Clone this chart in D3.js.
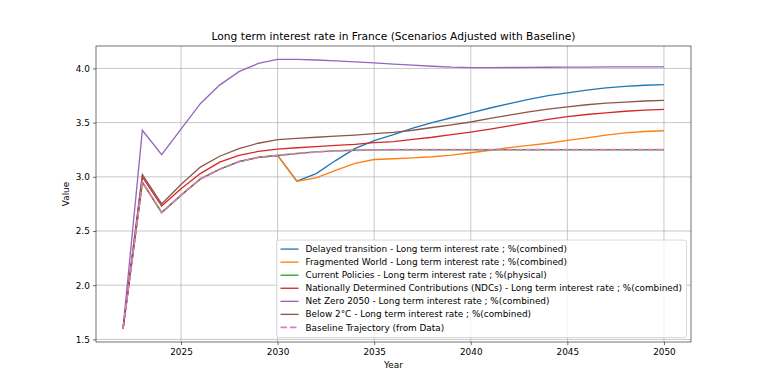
<!DOCTYPE html>
<html>
<head>
<meta charset="utf-8">
<script src="https://cdn.jsdelivr.net/npm/d3@7"></script>
<style>
  body { margin: 0; background: #fff; }
  svg { font-family: "DejaVu Sans", sans-serif; }
</style>
</head>
<body>
<script>
const years = d3.range(2022, 2051);

const baseline   = [1.6, 2.95, 2.67, 2.83, 2.98, 3.07, 3.14, 3.18, 3.197, 3.215, 3.23, 3.24, 3.245, 3.248,
                    3.25, 3.25, 3.25, 3.25, 3.25, 3.25, 3.25, 3.25, 3.25, 3.25, 3.25, 3.25, 3.25, 3.25, 3.25];
const delayed    = [1.6, 2.95, 2.67, 2.83, 2.98, 3.07, 3.14, 3.18, 3.197, 2.96, 3.03, 3.15, 3.26, 3.335,
                    3.39, 3.45, 3.5, 3.545, 3.59, 3.635, 3.675, 3.715, 3.75, 3.775, 3.8, 3.82, 3.835, 3.845, 3.85];
const fragmented = [1.6, 2.95, 2.67, 2.83, 2.98, 3.07, 3.14, 3.18, 3.197, 2.96, 2.99, 3.06, 3.125, 3.16,
                    3.167, 3.175, 3.185, 3.2, 3.222, 3.245, 3.27, 3.29, 3.31, 3.336, 3.36, 3.385, 3.405, 3.418, 3.425];
const currentPol = baseline.slice();
const ndcs       = [1.6, 3.0, 2.73, 2.89, 3.03, 3.135, 3.197, 3.234, 3.256, 3.268, 3.278, 3.29, 3.3, 3.315,
                    3.325, 3.345, 3.365, 3.39, 3.413, 3.44, 3.47, 3.5, 3.53, 3.555, 3.575, 3.59, 3.605, 3.615, 3.623];
const netZero    = [1.6, 3.43, 3.205, 3.44, 3.675, 3.846, 3.97, 4.046, 4.083, 4.083, 4.078, 4.07, 4.06, 4.052,
                    4.04, 4.03, 4.02, 4.012, 4.008, 4.008, 4.009, 4.01, 4.011, 4.012, 4.013, 4.014, 4.015, 4.015, 4.015];
const below2     = [1.6, 3.02, 2.75, 2.93, 3.09, 3.19, 3.26, 3.31, 3.343, 3.355, 3.365, 3.375, 3.385, 3.398,
                    3.41, 3.43, 3.455, 3.48, 3.506, 3.54, 3.57, 3.6, 3.625, 3.645, 3.665, 3.68, 3.69, 3.7, 3.706];

const labels = [
  "Delayed transition - Long term interest rate ; %(combined)",
  "Fragmented World - Long term interest rate ; %(combined)",
  "Current Policies - Long term interest rate ; %(physical)",
  "Nationally Determined Contributions (NDCs) - Long term interest rate ; %(combined)",
  "Net Zero 2050 - Long term interest rate ; %(combined)",
  "Below 2°C - Long term interest rate ; %(combined)",
  "Baseline Trajectory (from Data)"
];
const colors = ["#1f77b4", "#ff7f0e", "#2ca02c", "#d62728", "#9467bd", "#8c564b", "#e377c2"];
const seriesData = [delayed, fragmented, currentPol, ndcs, netZero, below2, baseline];

const xTicks = [2025, 2030, 2035, 2040, 2045, 2050];
const yTicks = [1.5, 2.0, 2.5, 3.0, 3.5, 4.0];

const W = 768, H = 384;
const m = {left: 96, right: 77, top: 46, bottom: 42};
const fs = 8.9;

const svg = d3.select("body").append("svg")
    .attr("width", W)
    .attr("height", H);

const allVals = seriesData.flat();
const yMin = d3.min(allVals), yMax = d3.max(allVals);
const yPad = (yMax - yMin) * 0.05;
const xPad = (2050 - 2022) * 0.05;

const x = d3.scaleLinear()
    .domain([2022 - xPad, 2050 + xPad])
    .range([m.left, W - m.right]);

const y = d3.scaleLinear()
    .domain([yMin - yPad, yMax + yPad])
    .range([H - m.bottom, m.top]);

// grid
svg.append("g").selectAll("line").data(xTicks).join("line")
    .attr("x1", d => x(d)).attr("x2", d => x(d))
    .attr("y1", m.top).attr("y2", H - m.bottom)
    .attr("stroke", "#b0b0b0").attr("stroke-width", 0.7);
svg.append("g").selectAll("line").data(yTicks).join("line")
    .attr("x1", m.left).attr("x2", W - m.right)
    .attr("y1", d => y(d)).attr("y2", d => y(d))
    .attr("stroke", "#b0b0b0").attr("stroke-width", 0.7);

// axes
const xAxis = svg.append("g")
    .attr("transform", `translate(0,${H - m.bottom})`)
    .call(d3.axisBottom(x).tickValues(xTicks).tickFormat(d3.format("d")).tickSizeOuter(0).tickSize(3.1).tickPadding(3.1));
const yAxis = svg.append("g")
    .attr("transform", `translate(${m.left},0)`)
    .call(d3.axisLeft(y).tickValues(yTicks).tickFormat(d3.format(".1f")).tickSizeOuter(0).tickSize(3.1).tickPadding(3.1));
[xAxis, yAxis].forEach(g => {
  g.select(".domain").remove();
  g.selectAll("text").attr("font-size", fs).attr("font-family", "DejaVu Sans").attr("fill", "#000");
  g.selectAll("line").attr("stroke", "#000").attr("stroke-width", 0.55);
});

// lines
const line = d3.line()
    .x((d, i) => x(years[i]))
    .y(d => y(d));

const isBase = i => i === 6;

seriesData.forEach((s, i) => {
  svg.append("path")
      .datum(s)
      .attr("fill", "none")
      .attr("stroke", colors[i])
      .attr("stroke-width", isBase(i) ? 1.78 : 1.33)
      .attr("stroke-dasharray", isBase(i) ? "6.6,2.8" : null)
      .attr("d", line);
});

// frame
svg.append("rect")
    .attr("x", m.left).attr("y", m.top)
    .attr("width", W - m.left - m.right).attr("height", H - m.top - m.bottom)
    .attr("fill", "none").attr("stroke", "#000").attr("stroke-width", 0.55);

// title and labels
svg.append("text")
    .attr("x", (m.left + W - m.right) / 2).attr("y", m.top - 6)
    .attr("text-anchor", "middle").attr("font-size", 10.67)
    .text("Long term interest rate in France (Scenarios Adjusted with Baseline)");
svg.append("text")
    .attr("x", (m.left + W - m.right) / 2).attr("y", H - m.bottom + 26)
    .attr("text-anchor", "middle").attr("font-size", fs)
    .text("Year");
svg.append("text")
    .attr("transform", `translate(${m.left - 27},${(m.top + H - m.bottom) / 2}) rotate(-90)`)
    .attr("text-anchor", "middle").attr("font-size", fs)
    .text("Value");

// legend
const rowH = 13.06;
const lgW = 410, lgH = rowH * labels.length + 6;
const lgX = W - m.right - 4.5 - lgW, lgY = H - m.bottom - 4.5 - lgH;
const lg = svg.append("g").attr("transform", `translate(${lgX},${lgY})`);
lg.append("rect")
    .attr("width", lgW).attr("height", lgH)
    .attr("rx", 2.5)
    .attr("fill", "#fff").attr("fill-opacity", 0.8)
    .attr("stroke", "#ccc").attr("stroke-width", 0.7);
labels.forEach((lab, i) => {
  const cy = 9 + i * rowH;
  lg.append("line")
      .attr("x1", 4).attr("x2", 22).attr("y1", cy).attr("y2", cy)
      .attr("stroke", colors[i])
      .attr("stroke-width", isBase(i) ? 1.78 : 1.33)
      .attr("stroke-dasharray", isBase(i) ? "6.6,2.8" : null);
  lg.append("text")
      .attr("x", 29).attr("y", cy).attr("dy", "0.35em")
      .attr("font-size", fs)
      .text(lab);
});
</script>
</body>
</html>
